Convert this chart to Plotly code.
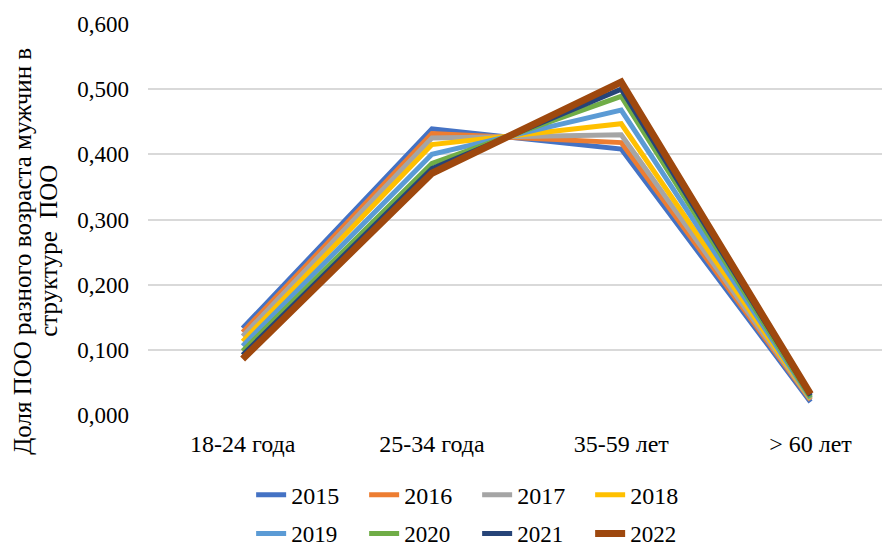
import plotly.graph_objects as go

categories = ["18-24 года", "25-34 года", "35-59 лет", "> 60 лет"]
years = ["2015", "2016", "2017", "2018", "2019", "2020", "2021", "2022"]
v2015 = [0.133, 0.439, 0.408, 0.020]
v2016 = [0.127, 0.432, 0.418, 0.023]
v2017 = [0.121, 0.425, 0.430, 0.024]
v2018 = [0.113, 0.415, 0.447, 0.025]
v2019 = [0.106, 0.400, 0.468, 0.026]
v2020 = [0.098, 0.386, 0.489, 0.027]
v2021 = [0.092, 0.378, 0.500, 0.030]
v2022 = [0.086, 0.371, 0.511, 0.032]
series = [v2015, v2016, v2017, v2018, v2019, v2020, v2021, v2022]
colors = ["#4472C4", "#ED7D31", "#A5A5A5", "#FFC000",
          "#5B9BD5", "#70AD47", "#264478", "#9E480E"]
widths = [5, 5, 5, 5, 5, 5, 5, 7]
yticks = [0, 0.1, 0.2, 0.3, 0.4, 0.5, 0.6]
ytick_text = ["0,000", "0,100", "0,200", "0,300", "0,400", "0,500", "0,600"]
title_lines = ["Доля ПОО разного возраста мужчин в", "структуре  ПОО"]

FONT = "Times New Roman"

fig = go.Figure()
for i, (yr, vals) in enumerate(zip(years, series)):
    fig.add_trace(go.Scatter(
        x=categories, y=vals, mode="lines", name=yr,
        line=dict(color=colors[i], width=widths[i]),
        legend="legend" if i < 4 else "legend2",
    ))

fig.update_layout(
    width=890, height=547,
    margin=dict(l=140, r=8, t=16, b=140, autoexpand=False),
    paper_bgcolor="white", plot_bgcolor="white",
    font=dict(family=FONT, size=23, color="#000000"),
    xaxis=dict(range=[-0.5, 3.42], showgrid=False, zeroline=False,
               showline=False, ticks="", ticklabelstandoff=12,
               tickfont=dict(size=24)),
    yaxis=dict(range=[0, 0.6], tickvals=yticks, ticktext=ytick_text,
               showgrid=True, gridcolor="#D9D9D9", gridwidth=2,
               zeroline=False, showline=False, ticks="",
               ticklabelstandoff=18, tickfont=dict(size=23)),
    legend=dict(orientation="h", x=0.139, xanchor="left", y=-0.205,
                yanchor="middle", entrywidth=68, entrywidthmode="pixels",
                font=dict(size=24), bgcolor="rgba(0,0,0,0)"),
    legend2=dict(orientation="h", x=0.139, xanchor="left", y=-0.303,
                 yanchor="middle", entrywidth=68, entrywidthmode="pixels",
                 font=dict(size=23), bgcolor="rgba(0,0,0,0)"),
    annotations=[
        dict(text=title_lines[0], xref="paper", yref="paper",
             x=-0.169, y=0.419, xanchor="center", yanchor="middle",
             textangle=-90, showarrow=False, font=dict(size=25, family=FONT)),
        dict(text=title_lines[1], xref="paper", yref="paper",
             x=-0.134, y=0.419, xanchor="center", yanchor="middle",
             textangle=-90, showarrow=False, font=dict(size=25, family=FONT)),
    ],
)

fig.write_html("out.html")
